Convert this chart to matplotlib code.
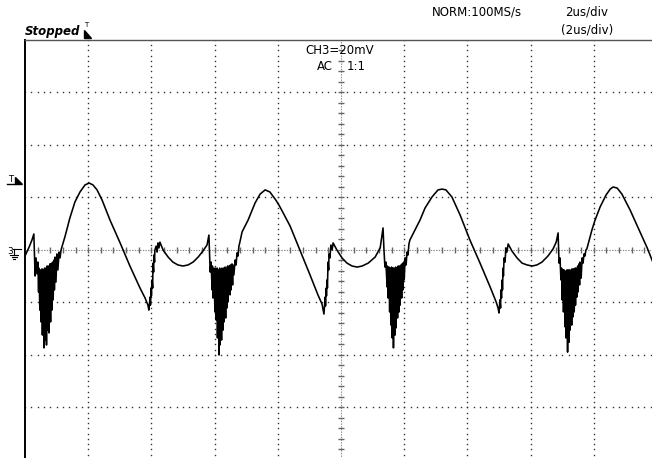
import numpy as np
import matplotlib.pyplot as plt
from matplotlib.lines import Line2D
from matplotlib.patches import Polygon

# trace points, time in us, voltage in mV (CH3, 20 mV/div, 2 us/div)
start = np.array([(0.00, -2.3), (0.13, 1.1), (0.22, 3.8), (0.28, 6.1)])
burst1 = np.array([
    (0.32, -9.9), (0.35, -3.0), (0.38, -9.1), (0.41, -4.6), (0.43, -16.0), (0.44, -6.9),
    (0.47, -22.9), (0.49, -7.6), (0.51, -27.4), (0.54, -7.2), (0.55, -32.4), (0.57, -7.6),
    (0.60, -37.3), (0.62, -6.9), (0.63, -34.3), (0.66, -6.9), (0.68, -36.2), (0.70, -6.1),
    (0.73, -30.5), (0.74, -6.1), (0.76, -31.6), (0.79, -5.3), (0.81, -27.4), (0.82, -5.3),
    (0.85, -22.9), (0.87, -4.6), (0.89, -19.0), (0.92, -3.8), (0.93, -15.2), (0.95, -2.7),
    (0.98, -12.2), (1.01, -1.5), (1.04, -7.6), (1.08, -0.8), (1.11, -3.0), (1.14, 0.0)])
wave1 = np.array([
    (1.27, 5.3), (1.42, 12.2), (1.58, 18.3), (1.74, 22.1), (1.90, 24.8), (2.03, 25.5),
    (2.15, 24.8), (2.28, 22.9), (2.44, 19.0), (2.69, 11.4), (3.01, 2.7), (3.32, -6.1),
    (3.64, -14.5), (3.80, -18.3), (3.89, -21.0), (3.92, -22.9)])
rise1 = np.array([
    (3.96, -17.9), (3.97, -21.0), (3.99, -14.5), (4.00, -17.5), (4.02, -11.4), (4.04, -14.5),
    (4.05, -5.0), (4.07, -8.4), (4.08, -1.9), (4.10, -4.6), (4.11, 0.0), (4.15, 1.5),
    (4.18, -0.8), (4.21, 2.7), (4.24, 0.8), (4.27, 3.0)])
bowl1 = np.array([
    (4.37, 0.0), (4.53, -2.7), (4.68, -4.6), (4.84, -5.7), (5.00, -6.1), (5.16, -5.7),
    (5.32, -4.6), (5.48, -2.7), (5.63, -0.4), (5.76, 1.9), (5.82, 5.7)])
burst2 = np.array([
    (5.86, -8.4), (5.89, -4.6), (5.92, -15.2), (5.93, -6.1), (5.95, -18.3), (5.98, -6.9),
    (6.01, -23.6), (6.03, -6.9), (6.05, -26.7), (6.08, -6.9), (6.09, -33.5), (6.11, -7.6),
    (6.14, -40.0), (6.16, -6.9), (6.17, -36.2), (6.20, -7.6), (6.22, -34.3), (6.23, -6.9),
    (6.27, -30.5), (6.28, -6.9), (6.30, -27.4), (6.33, -6.5), (6.35, -25.9), (6.36, -6.9),
    (6.39, -22.1), (6.41, -6.1), (6.42, -19.8), (6.46, -6.1), (6.49, -17.1), (6.50, -5.7),
    (6.52, -15.2), (6.55, -5.3), (6.57, -13.3), (6.58, -5.7), (6.61, -9.5), (6.65, -3.8),
    (6.68, -5.7), (6.71, -1.1), (6.74, -2.3), (6.77, 1.5), (6.80, 3.0), (6.87, 6.9)])
wave2 = np.array([
    (7.06, 11.4), (7.28, 17.9), (7.44, 21.3), (7.60, 22.9), (7.75, 22.1), (7.94, 19.0),
    (8.07, 16.4), (8.39, 9.1), (8.70, 0.0), (9.02, -9.5), (9.27, -17.1), (9.40, -20.6),
    (9.46, -24.4)])
rise2 = np.array([
    (9.50, -17.9), (9.51, -21.3), (9.53, -14.5), (9.54, -17.5), (9.56, -11.4), (9.57, -14.5),
    (9.59, -4.6), (9.61, -7.6), (9.62, -1.5), (9.65, -3.0), (9.68, 1.9), (9.72, 0.0),
    (9.75, 2.7)])
bowl2 = np.array([
    (9.87, 0.0), (10.03, -3.0), (10.19, -5.0), (10.35, -6.1), (10.51, -6.5), (10.67, -6.1),
    (10.86, -5.0), (11.08, -2.7), (11.24, 0.8), (11.33, 8.4)])
burst3 = np.array([
    (11.36, 0.0), (11.39, -6.5), (11.42, -4.6), (11.46, -14.1), (11.47, -6.1), (11.49, -18.3),
    (11.52, -6.5), (11.54, -23.6), (11.55, -6.9), (11.58, -28.6), (11.60, -6.5), (11.62, -33.5),
    (11.65, -6.9), (11.66, -37.3), (11.68, -6.9), (11.71, -32.4), (11.73, -6.5), (11.74, -29.7),
    (11.77, -6.9), (11.79, -25.9), (11.81, -6.1), (11.84, -23.6), (11.85, -6.1), (11.87, -21.0),
    (11.90, -5.7), (11.92, -18.3), (11.93, -5.3), (11.96, -15.2), (11.98, -4.6), (12.00, -11.4),
    (12.03, -3.0), (12.06, -5.7), (12.09, -0.8), (12.12, -1.9), (12.15, 2.3), (12.18, 3.8),
    (12.34, 7.6), (12.50, 11.4)])
wave3 = np.array([
    (12.66, 16.0), (12.88, 20.2), (13.07, 22.9), (13.20, 23.2), (13.32, 22.9), (13.51, 20.2),
    (13.77, 13.3), (14.08, 3.8), (14.40, -5.0), (14.72, -14.1), (14.91, -19.8), (14.97, -22.1),
    (15.00, -24.0)])
rise3 = np.array([
    (15.03, -19.0), (15.05, -22.1), (15.06, -15.2), (15.08, -18.3), (15.10, -11.4), (15.11, -15.2),
    (15.13, -6.9), (15.14, -9.9), (15.16, -3.0), (15.19, -4.6), (15.22, 0.8), (15.25, -0.8),
    (15.29, 2.3)])
bowl3 = np.array([
    (15.41, -0.4), (15.57, -3.0), (15.73, -5.0), (15.89, -5.7), (16.05, -6.1), (16.20, -5.7),
    (16.36, -4.6), (16.55, -2.3), (16.71, 0.4), (16.81, 3.0), (16.87, 6.5)])
burst4 = np.array([
    (16.90, -5.0), (16.93, -3.0), (16.96, -11.4), (16.98, -6.9), (17.00, -19.0), (17.03, -7.6),
    (17.04, -23.6), (17.06, -7.6), (17.09, -29.3), (17.11, -8.0), (17.12, -33.5), (17.15, -7.6),
    (17.17, -38.9), (17.19, -7.6), (17.22, -35.1), (17.23, -7.6), (17.25, -30.5), (17.28, -7.6),
    (17.30, -28.6), (17.31, -7.2), (17.34, -25.5), (17.36, -7.2), (17.38, -23.6), (17.41, -6.9),
    (17.42, -21.0), (17.44, -6.9), (17.47, -17.9), (17.49, -6.1), (17.50, -16.0), (17.53, -5.3),
    (17.55, -13.3), (17.56, -4.6), (17.60, -10.7), (17.63, -3.0), (17.66, -5.0), (17.69, -1.5),
    (17.72, -2.3), (17.75, 0.0), (17.78, 0.4), (17.94, 7.6), (18.04, 11.4)])
wave4 = np.array([
    (18.20, 16.4), (18.39, 21.0), (18.52, 23.2), (18.61, 24.0), (18.74, 23.6), (18.89, 21.3),
    (19.15, 15.2), (19.46, 6.9), (19.69, 0.8), (19.84, -3.8), (20.00, -8.4)])

trace = np.vstack([start, burst1, wave1, rise1, bowl1, burst2, wave2, rise2, bowl2,
                   burst3, wave3, rise3, bowl3, burst4, wave4])

W, H = 652, 458


def fx(x):
    return x / W


def fy(y):
    return 1 - y / H


fig = plt.figure(figsize=(W / 100, H / 100), dpi=100)
fig.patch.set_facecolor('white')

# screen: 10 div x 8 div, left edge at px 25, top at px 40
ax = fig.add_axes([fx(25), fy(460), 632 / W, 420 / H])
ax.set_xlim(0, 20)
ax.set_ylim(-80, 80)
ax.set_xticks([])
ax.set_yticks([])
ax.spines['right'].set_visible(False)
ax.spines['bottom'].set_visible(False)
ax.spines['left'].set_color('black')
ax.spines['left'].set_linewidth(1.4)
ax.spines['top'].set_color('#555555')
ax.spines['top'].set_linewidth(1.0)

# dotted graticule
dot_v = np.arange(-80, 80.1, 2)
dot_h = np.arange(0, 20.01, 0.2)
for gx in [2, 4, 6, 8, 12, 14, 16, 18]:
    ax.plot(np.full_like(dot_v, gx), dot_v, ls='none', marker='s', ms=1.0, mew=0, color='#333333')
for gy in [-60, -40, -20, 20, 40, 60]:
    ax.plot(dot_h, np.full_like(dot_h, gy), ls='none', marker='s', ms=1.0, mew=0, color='#333333')

# centre axes with minor ticks
ax.plot([0, 20], [0, 0], color='#888888', lw=0.8, ls=(0, (1.2, 1.2)))
ax.plot([10, 10], [-80, 80], color='#888888', lw=0.8, ls=(0, (1.2, 1.2)))
ax.vlines(np.arange(0.4, 20, 0.4), -1.1, 1.1, color='#666666', lw=1.0)
ax.hlines(np.arange(-76, 80, 4), 9.92, 10.08, color='#666666', lw=1.0)

# signal
ax.plot(trace[:, 0], trace[:, 1], color='black', lw=1.15)

# header texts
font = dict(family='DejaVu Sans', color='black')
fig.text(fx(25), fy(35), 'Stopped', fontsize=8.5, style='italic', fontweight='bold', va='baseline', **font)
fig.text(fx(86), fy(25), 'T', fontsize=5, ha='center', va='center', **font)
fig.add_artist(Polygon([(fx(84), fy(30)), (fx(84), fy(38)), (fx(91), fy(38))],
                       closed=True, color='black', transform=fig.transFigure))
fig.text(fx(477), fy(12), 'NORM:100MS/s', fontsize=8.5, ha='center', va='center', **font)
fig.text(fx(587), fy(12), '2us/div', fontsize=8.5, ha='center', va='center', **font)
fig.text(fx(587), fy(30), '(2us/div)', fontsize=8.5, ha='center', va='center', **font)
fig.text(fx(340), fy(50), 'CH3=20mV', fontsize=8.5, ha='center', va='center', **font)
fig.text(fx(325), fy(67), 'AC', fontsize=8.5, ha='center', va='center', **font)
fig.text(fx(356), fy(67), '1:1', fontsize=8.5, ha='center', va='center', **font)

# trigger level marker
fig.text(fx(11), fy(180), 'T', fontsize=6, ha='center', va='center', **font)
fig.add_artist(Line2D([fx(7), fx(15)], [fy(184), fy(184)], color='black', lw=1.0,
                      transform=fig.transFigure))
fig.add_artist(Polygon([(fx(15), fy(177)), (fx(15), fy(184)), (fx(22), fy(184))],
                       closed=True, color='black', transform=fig.transFigure))

# channel 3 ground marker
fig.text(fx(10), fy(252), '3', fontsize=6.5, ha='center', va='center', **font)
for xs, ys in [([13, 21], [249, 249]), ([14, 14], [249, 255]), ([10, 18], [255, 255]),
               ([11.5, 16.5], [257, 257]), ([13, 15], [259, 259])]:
    fig.add_artist(Line2D([fx(v) for v in xs], [fy(v) for v in ys], color='black', lw=0.8,
                          transform=fig.transFigure))

fig.savefig('out.png', dpi=100)
